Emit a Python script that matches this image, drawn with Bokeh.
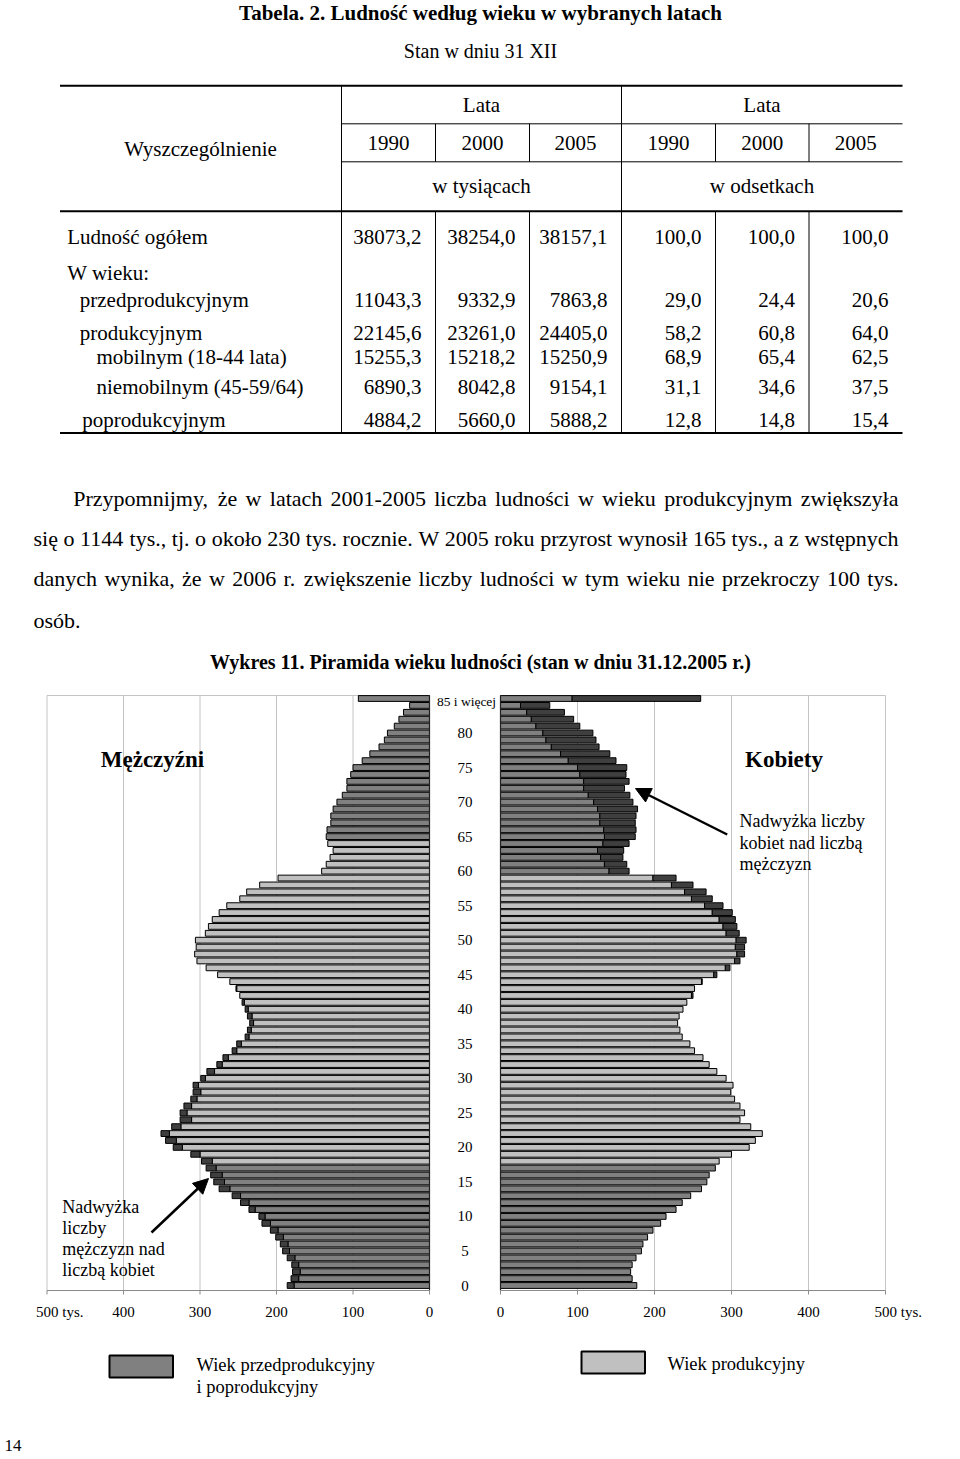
from bokeh.plotting import figure
from bokeh.models import Range1d, ColumnDataSource, Arrow, NormalHead
from bokeh.core.properties import value
from bokeh.embed import file_html
from bokeh.resources import INLINE

# ---------------- data ----------------
table_title = "Tabela. 2. Ludność według wieku w wybranych latach"
table_subtitle = "Stan w dniu 31 XII"
header_first = "Wyszczególnienie"
group_label = "Lata"
years = ["1990", "2000", "2005"]
unit_labels = ["w tysiącach", "w odsetkach"]
row_labels = ["Ludność ogółem", "W wieku:", "przedprodukcyjnym", "produkcyjnym",
              "mobilnym (18-44 lata)", "niemobilnym (45-59/64)", "poprodukcyjnym"]
thous_1990 = [38073.2, None, 11043.3, 22145.6, 15255.3, 6890.3, 4884.2]
thous_2000 = [38254.0, None, 9332.9, 23261.0, 15218.2, 8042.8, 5660.0]
thous_2005 = [38157.1, None, 7863.8, 24405.0, 15250.9, 9154.1, 5888.2]
pct_1990 = [100.0, None, 29.0, 58.2, 68.9, 31.1, 12.8]
pct_2000 = [100.0, None, 24.4, 60.8, 65.4, 34.6, 14.8]
pct_2005 = [100.0, None, 20.6, 64.0, 62.5, 37.5, 15.4]

paragraph = [
    "Przypomnijmy, że w latach 2001-2005 liczba ludności w wieku produkcyjnym zwiększyła",
    "się o 1144 tys., tj. o około 230 tys. rocznie. W 2005 roku przyrost wynosił 165 tys., a z wstępnych",
    "danych wynika, że w 2006 r. zwiększenie liczby ludności w tym wieku nie przekroczy 100 tys.",
    "osób.",
]
chart_title = "Wykres 11. Piramida wieku ludności (stan w dniu 31.12.2005 r.)"

ages = list(range(0, 86))
age_top_label = "85 i więcej"
age_tick_values = [0, 5, 10, 15, 20, 25, 30, 35, 40, 45, 50, 55, 60, 65, 70, 75, 80]
# thousands, ages 0..84 and 85+
men = [186, 181, 179, 180, 186, 192, 195, 201, 208, 219,
       223, 236, 247, 258, 275, 282, 286, 292, 298, 312,
       335, 345, 351, 337, 326, 326, 321, 312, 309, 309,
       299, 291, 278, 270, 258, 252, 241, 238, 235, 238,
       241, 245, 248, 253, 261, 277, 292, 304, 307, 305,
       306, 293, 289, 284, 275, 265, 248, 239, 222, 198,
       141, 135, 130, 126, 133, 135, 134, 129, 129, 126,
       121, 114, 108, 108, 103, 100, 88, 78, 66, 59,
       55, 46, 40, 34, 26, 93]
women = [177, 171, 169, 171, 176, 183, 185, 191, 198, 208,
         215, 228, 236, 247, 261, 268, 271, 279, 284, 300,
         323, 331, 340, 325, 311, 317, 311, 304, 299, 302,
         293, 281, 271, 263, 252, 246, 236, 233, 230, 232,
         237, 242, 250, 252, 262, 281, 298, 311, 317, 317,
         319, 310, 307, 305, 301, 289, 275, 267, 250, 228,
         167, 164, 159, 160, 167, 175, 176, 175, 176, 178,
         172, 168, 161, 167, 163, 164, 150, 142, 128, 124,
         120, 103, 95, 83, 64, 260]
productive_men = (18, 64)
productive_women = (18, 59)

x_ticks = [0, 100, 200, 300, 400, 500]
x_tick_labels = ["0", "100", "200", "300", "400", "500 tys."]

label_men = "Mężczyźni"
label_women = "Kobiety"
note_women = ["Nadwyżka liczby", "kobiet nad liczbą", "mężczyzn"]
note_men = ["Nadwyżka", "liczby", "mężczyzn nad", "liczbą kobiet"]
legend_labels = [["Wiek przedprodukcyjny", "i poprodukcyjny"], ["Wiek produkcyjny"]]
page_number = "14"

# ---------------- style ----------------
SERIF = value("Liberation Serif")
DARK = "#3f3f3f"
MID = "#808080"
LIGHT = "#c0c0c0"
GRID = "#c4c4c4"

p = figure(width=960, height=1459, x_range=Range1d(0, 960), y_range=Range1d(1459, 0),
           output_backend="svg", toolbar_location=None, min_border=0,
           x_axis_location=None, y_axis_location=None, outline_line_color=None,
           background_fill_color="white", border_fill_color="white")
p.grid.visible = False

# pyramid scales: men 0 at x=429, women 0 at x=500; age 0 at y=1285, 85 at y=698
p.extra_x_ranges = {
    "men": Range1d(429 / 0.765, -(960 - 429) / 0.765),
    "women": Range1d(-500 / 0.77, (960 - 500) / 0.77),
}
step = (1285 - 698) / 85
p.extra_y_ranges = {"age": Range1d(85 - (1459 - 698) / step, 85 + 698 / step)}


def txt(x, y, s, size, align="left", bold=False, baseline="middle", **kw):
    p.text(x=[x], y=[y], text=[s], text_font=SERIF, text_font_size=f"{size}px",
           text_align=align, text_baseline=baseline, text_color="black",
           text_font_style="bold" if bold else "normal", **kw)


# ---------------- table ----------------
txt(480, 12, table_title, 21, "center", bold=True)
txt(480, 50, table_subtitle, 20, "center")

X_L, X_R = 59.5, 902
col_edges = [341, 435, 529, 621, 715, 808.5, 902]
Y_TOP, Y_LATA, Y_YEARS, Y_HEAD, Y_BOT = 85.3, 123.3, 161.3, 210.7, 432.5

p.segment(x0=[X_L, X_L, X_L], x1=[X_R, X_R, X_R], y0=[Y_TOP, Y_HEAD, Y_BOT],
          y1=[Y_TOP, Y_HEAD, Y_BOT], line_color="black", line_width=2)
p.segment(x0=[col_edges[0]] * 2, x1=[X_R] * 2, y0=[Y_LATA, Y_YEARS], y1=[Y_LATA, Y_YEARS],
          line_color="black", line_width=1)
p.segment(x0=[col_edges[0], col_edges[3]], x1=[col_edges[0], col_edges[3]],
          y0=[Y_TOP, Y_TOP], y1=[Y_BOT, Y_BOT], line_color="black", line_width=1)
inner = [col_edges[1], col_edges[2], col_edges[4], col_edges[5]]
p.segment(x0=inner, x1=inner, y0=[Y_LATA] * 4, y1=[Y_YEARS] * 4, line_color="black", line_width=1)
p.segment(x0=inner, x1=inner, y0=[Y_HEAD] * 4, y1=[Y_BOT] * 4, line_color="black", line_width=1)

TS = 21
txt(200, 148, header_first, TS, "center")
for g in range(2):
    cx = (col_edges[3 * g] + col_edges[3 * g + 3]) / 2
    txt(cx, 104, group_label, TS, "center")
    txt(cx, 185, unit_labels[g], TS, "center")
    for k, yr in enumerate(years):
        c = 3 * g + k
        txt((col_edges[c] + col_edges[c + 1]) / 2, 142, yr, TS, "center")

row_y = [236.7, 272, 299, 332.7, 356, 386, 419]
row_x = [66.7, 66.7, 79.3, 79.3, 96, 96, 81.7]
for lab, x, y in zip(row_labels, row_x, row_y):
    txt(x, y, lab, TS)
cols = [thous_1990, thous_2000, thous_2005, pct_1990, pct_2000, pct_2005]
for c, colvals in enumerate(cols):
    xr = col_edges[c + 1] - 14
    for v, y in zip(colvals, row_y):
        if v is not None:
            txt(xr, y, f"{v:.1f}".replace(".", ","), TS, "right")

# ---------------- paragraph (justified) ----------------
W = {" ": 250, ",": 250, "-": 333, ".": 250, "/": 278, ":": 278, "(": 333, ")": 333,
     "A": 722, "B": 667, "C": 667, "D": 722, "E": 611, "F": 556, "G": 722, "H": 722,
     "I": 333, "J": 389, "K": 722, "L": 611, "M": 889, "N": 722, "O": 722, "P": 556,
     "R": 667, "S": 556, "T": 611, "W": 944, "X": 722, "Y": 722, "Z": 611,
     "a": 444, "b": 500, "c": 444, "d": 500, "e": 444, "f": 333, "g": 500, "h": 500,
     "i": 278, "j": 278, "k": 500, "l": 278, "m": 778, "n": 500, "o": 500, "p": 500,
     "q": 500, "r": 333, "s": 389, "t": 278, "u": 500, "v": 500, "w": 722, "x": 500,
     "y": 500, "z": 444, "ż": 444, "ę": 444, "ą": 444, "ś": 389, "ć": 444, "ł": 278,
     "ó": 500, "ń": 500, "ź": 444}


def tw(s, size):
    return sum(W.get(ch, 500) for ch in s) / 1000 * size


PS = 22
par_y = [498, 538, 578, 620]
par_left = [72.7, 33, 33, 33]
par_right = 898
for i, line in enumerate(paragraph):
    words = line.split(" ")
    if i == len(paragraph) - 1 or len(words) < 2:
        txt(par_left[i], par_y[i], line, PS)
        continue
    total = sum(tw(w_, PS) for w_ in words)
    gap = (par_right - par_left[i] - total) / (len(words) - 1)
    x = par_left[i]
    xs = []
    for w_ in words:
        xs.append(x)
        x += tw(w_, PS) + gap
    p.text(x=xs, y=[par_y[i]] * len(words), text=words, text_font=SERIF,
           text_font_size=f"{PS}px", text_align="left", text_baseline="middle",
           text_color="black")

txt(480, 661, chart_title, 20, "center", bold=True)

# ---------------- pyramid ----------------
BOX_T, BOX_B = 695, 1290
p.segment(x0=x_ticks[1:], x1=x_ticks[1:], y0=[BOX_T] * 5, y1=[BOX_B] * 5,
          x_range_name="men", line_color=GRID, line_width=1)
p.segment(x0=x_ticks[1:], x1=x_ticks[1:], y0=[BOX_T] * 5, y1=[BOX_B] * 5,
          x_range_name="women", line_color=GRID, line_width=1)
p.segment(x0=[500, 0], x1=[0, 500], y0=[BOX_T] * 2, y1=[BOX_T] * 2,
          x_range_name="men", line_color=GRID, line_width=1)
p.segment(x0=[0], x1=[500], y0=[BOX_T], y1=[BOX_T],
          x_range_name="women", line_color=GRID, line_width=1)

mb, mc, wc = [], [], []
for a, m, w in zip(ages, men, women):
    mb.append(min(m, w))
    mc.append(LIGHT if productive_men[0] <= a <= productive_men[1] else MID)
    wc.append(LIGHT if productive_women[0] <= a <= productive_women[1] else MID)

src_m = ColumnDataSource(dict(age=ages, base=mb, color=mc))
src_w = ColumnDataSource(dict(age=ages, base=list(mb), color=wc))
ex_m = ColumnDataSource(dict(age=[a for a, m, w in zip(ages, men, women) if m > w],
                             left=[w for m, w in zip(men, women) if m > w],
                             right=[m for m, w in zip(men, women) if m > w]))
ex_w = ColumnDataSource(dict(age=[a for a, m, w in zip(ages, men, women) if w > m],
                             left=[m for m, w in zip(men, women) if w > m],
                             right=[w for m, w in zip(men, women) if w > m]))
H = 0.84
p.hbar(y="age", left=0, right="base", height=H, source=src_m, fill_color="color",
       line_color="black", line_width=1, x_range_name="men", y_range_name="age")
p.hbar(y="age", left="left", right="right", height=H, source=ex_m, fill_color=DARK,
       line_color="black", line_width=1, x_range_name="men", y_range_name="age")
p.hbar(y="age", left=0, right="base", height=H, source=src_w, fill_color="color",
       line_color="black", line_width=1, x_range_name="women", y_range_name="age")
p.hbar(y="age", left="left", right="right", height=H, source=ex_w, fill_color=DARK,
       line_color="black", line_width=1, x_range_name="women", y_range_name="age")

p.segment(x0=[0], x1=[0], y0=[BOX_T], y1=[BOX_B], x_range_name="men",
          line_color="#222222", line_width=1.2)
p.segment(x0=[0], x1=[0], y0=[BOX_T], y1=[BOX_B], x_range_name="women",
          line_color="#222222", line_width=1.2)

for rn in ("men", "women"):
    p.segment(x0=[0], x1=[500], y0=[BOX_B], y1=[BOX_B], x_range_name=rn,
              line_color="#8a8a8a", line_width=1)
    p.segment(x0=x_ticks, x1=x_ticks, y0=[BOX_B] * 6, y1=[BOX_B + 4] * 6, x_range_name=rn,
              line_color="#8a8a8a", line_width=1)
    for t, lab in zip(x_ticks, x_tick_labels):
        if lab.endswith("tys."):
            p.text(x=[t], y=[1311], text=[lab], text_font=SERIF, text_font_size="15px",
                   text_align="left", text_baseline="middle", x_offset=-11,
                   x_range_name=rn)
        else:
            p.text(x=[t], y=[1311], text=[lab], text_font=SERIF, text_font_size="15px",
                   text_align="center", text_baseline="middle", x_range_name=rn)

p.text(x=[464.5] * len(age_tick_values), y=age_tick_values,
       text=[str(a) for a in age_tick_values], text_font=SERIF, text_font_size="15px",
       text_align="center", text_baseline="middle", y_range_name="age")
p.quad(left=[433], right=[497], top=[693], bottom=[710], fill_color="white", line_color=None)
p.text(x=[466], y=[ages[-1] - 0.5], text=[age_top_label], text_font=SERIF,
       text_font_size="13.5px", text_align="center", text_baseline="middle",
       y_range_name="age")

txt(152, 759, label_men, 23, "center", bold=True)
txt(783.5, 759, label_women, 23, "center", bold=True)
for i, s in enumerate(note_women):
    txt(739, 820.7 + 21.3 * i, s, 18)
for i, s in enumerate(note_men):
    txt(61.7, 1206 + 21.3 * i, s, 18)
p.add_layout(Arrow(end=NormalHead(size=15, fill_color="black", line_color="black"),
                   x_start=726.7, y_start=834, x_end=635, y_end=788,
                   line_width=2.5, line_color="black"))
p.add_layout(Arrow(end=NormalHead(size=15, fill_color="black", line_color="black"),
                   x_start=151, y_start=1232, x_end=208, y_end=1178,
                   line_width=2.5, line_color="black"))

p.quad(left=[109, 581], right=[172.5, 644.5], top=[1355, 1351], bottom=[1377, 1373],
       fill_color=[MID, LIGHT], line_color="black", line_width=2)
txt(196, 1364, legend_labels[0][0], 18.5)
txt(196, 1386, legend_labels[0][1], 18.5)
txt(667, 1363, legend_labels[1][0], 18.5)

txt(4, 1445, page_number, 17)

open("out.html", "w").write(file_html(p, INLINE))
